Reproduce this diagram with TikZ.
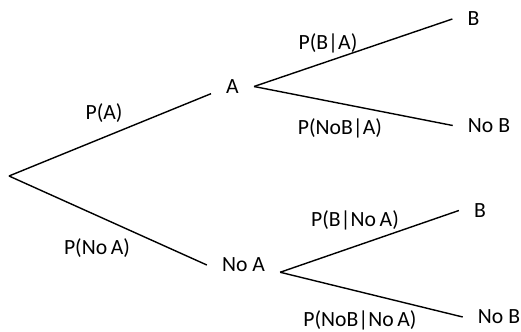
\documentclass[tikz,border=0pt]{standalone}
\usepackage{fontspec}
\setmainfont{Carlito}

\tikzset{
  outcome/.style={inner xsep=0.45cm, inner ysep=0pt},
  prob/.style={inner sep=0pt},
  branch/.style={line width=1.2pt}
}

\begin{document}
\begin{tikzpicture}[x=0.03cm,y=-0.03cm,font=\fontsize{18.5pt}{22pt}\selectfont]
\useasboundingbox (0,0) rectangle (521,332);

% Root
\coordinate (root) at (9,176);

% Outcomes
\node[outcome] (A) at (232.5,86.5) {A};
\node[outcome] (noA) at (243.5,265) {No A};
\node[outcome] (B1) at (473.5,19) {B};
\node[outcome] (noB1) at (489,125.5) {No B};
\node[outcome] (B2) at (480,210.5) {B};
\node[outcome] (noB2) at (499,317) {No B};

% Branches
\draw[branch] (root) -- (A.south west);
\draw[branch] (root) -- (noA.west);
\draw[branch] (A.east) -- (B1.west);
\draw[branch] (A.east) -- (noB1.west);
\draw[branch] (noA.south east) -- (B2.west);
\draw[branch] (noA.south east) -- (noB2.west);

% Probabilities
\node[prob] (pA) at (104,113) {P(A)};
\node[prob] (pnoA) at (97,248) {P(No\,A)};
\node[prob] (pBA) at (328,43) {P(B|A)};
\node[prob] (pnoBA) at (340,128) {P(NoB|A)};
\node[prob] (pBnoA) at (355,220) {P(B|No\,A)};
\node[prob] (pnoBnoA) at (360,320) {P(NoB|No\,A)};

\end{tikzpicture}
\end{document}
